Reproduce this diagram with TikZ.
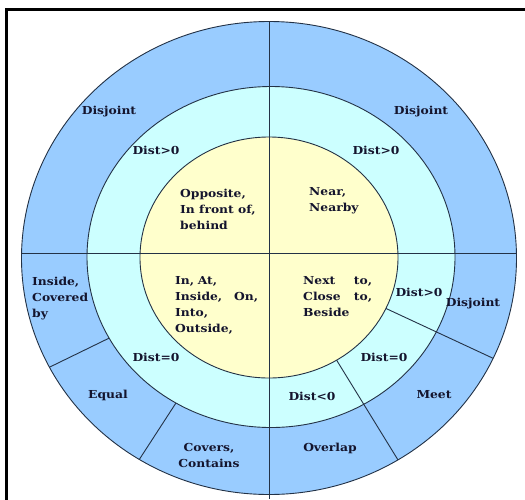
\documentclass[tikz,border=0pt]{standalone}
\usepackage{fontspec}
\setmainfont{DejaVu Serif}[FakeStretch=1.12]
\definecolor{ringblue}{RGB}{153,204,255}
\definecolor{ringcyan}{RGB}{204,255,255}
\definecolor{ringyellow}{RGB}{255,255,204}
\definecolor{edge}{RGB}{35,50,70}
\definecolor{ink}{RGB}{20,20,45}
\begin{document}
\begin{tikzpicture}[x=1pt,y=-1pt,
  lbl/.style={font=\fontsize{11}{16}\selectfont\bfseries, text=ink, inner sep=0pt, align=center},
  lbll/.style={lbl, align=left, anchor=west},
  ringline/.style={draw=edge, line width=0.9pt},
  divider/.style={draw=edge, line width=0.9pt},
  frame/.style={draw=black, line width=3pt}]
\useasboundingbox (0,0) rectangle (525,499);
\clip (0,0) rectangle (525,499);
\fill[white] (0,0) rectangle (525,499);
\draw[frame] (6,9.5) rectangle (560,560);
\coordinate (c) at (269,258);
\path[ringline, fill=ringblue] (c) ellipse [x radius=247.5, y radius=236.5];
\path[ringline, fill=ringcyan] (271,257) ellipse [x radius=184, y radius=170.5];
\path[ringline, fill=ringyellow] (269,257.5) ellipse [x radius=129, y radius=120.5];
% main dividers
\coordinate (top) at (269,22);
\coordinate (bot) at (269,499);
\coordinate (lft) at (22,253);
\coordinate (rgt) at (517,253);
\draw[divider] (top) -- (bot);
\draw[divider] (lft) -- (rgt);
% radial dividers
\path (269,257.5) ++(25:129 and 120.5) coordinate (r1a);
\path (c) ++(25.1:247.5 and 236.5) coordinate (r1b);
\path (269,257.5) ++(58.4:129 and 120.5) coordinate (r2a);
\path (c) ++(58.6:247.5 and 236.5) coordinate (r2b);
\path (271,257) ++(151.6:184 and 170.5) coordinate (r3a);
\path (c) ++(152.5:247.5 and 236.5) coordinate (r3b);
\path (271,257) ++(121.1:184 and 170.5) coordinate (r4a);
\path (c) ++(121.6:247.5 and 236.5) coordinate (r4b);
\draw[divider] (r1a) -- (r1b);
\draw[divider] (r2a) -- (r2b);
\draw[divider] (r3a) -- (r3b);
\draw[divider] (r4a) -- (r4b);
% labels
\node[lbl] (dj1) at (109,112) {Disjoint};
\node[lbl] (dj2) at (421,112) {Disjoint};
\node[lbl] (dp1) at (156,150) {Dist>0};
\node[lbl] (dp2) at (376,150) {Dist>0};
\node[lbll] (opp) at (180,209) {Opposite,\\In front of,\\behind};
\node[lbll] (near) at (309,201) {Near,\\Nearby};
\node[lbll, text width=83pt] (inat) at (175,305) {In, At,\\Inside,\hfill On,\\Into,\\Outside,};
\node[lbll, text width=69pt] (next) at (303,297) {Next\hfill to,\\Close\hfill to,\\Beside};
\node[lbll] (insd) at (32,299) {Inside,\\Covered\\by};
\node[lbl] (dp3) at (419,292) {Dist>0};
\node[lbl] (dj3) at (473,304) {Disjoint};
\node[lbl] (dz1) at (156,357) {Dist=0};
\node[lbl] (dz2) at (384,357) {Dist=0};
\node[lbl] (eq) at (108,395) {Equal};
\node[lbl] (dn) at (312,396) {Dist<0};
\node[lbl] (meet) at (434,395) {Meet};
\node[lbl] (cov) at (209,455.5) {Covers,\\Contains};
\node[lbl] (ovl) at (330,448) {Overlap};
\end{tikzpicture}
\end{document}
